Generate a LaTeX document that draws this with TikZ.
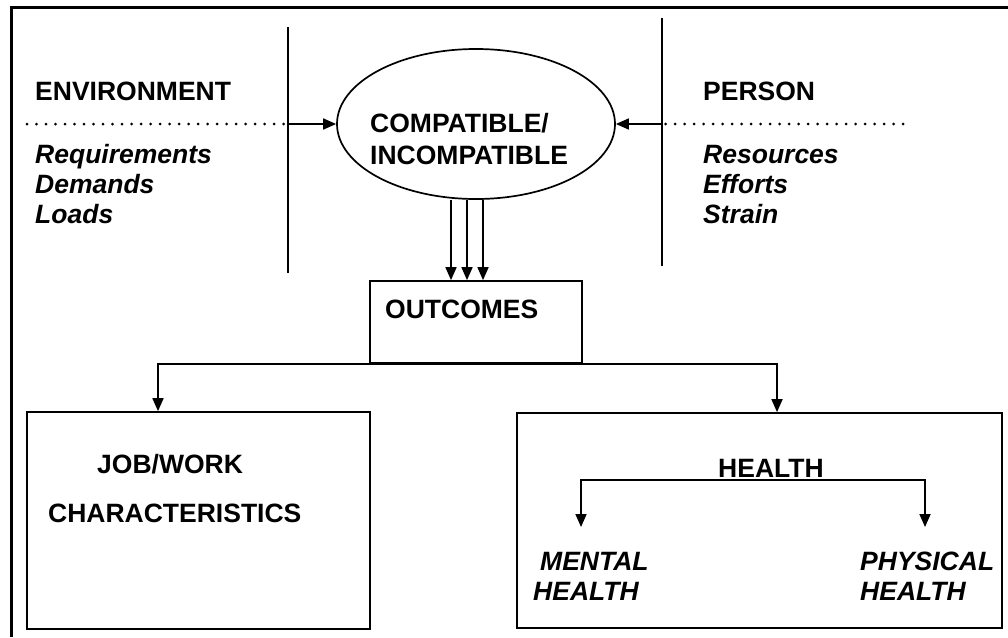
\documentclass[tikz,border=0pt]{standalone}
\usepackage{fontspec}
\setmainfont{Liberation Sans}
\usetikzlibrary{arrows.meta,shapes.geometric}

\tikzset{
	edgeline/.style={line width=1.7pt},
	arr/.style={edgeline, -{Triangle[length=13pt,width=11pt]}},
	dblarr/.style={edgeline, {Triangle[length=13pt,width=11pt]}-{Triangle[length=13pt,width=11pt]}},
	dotline/.style={line width=3pt, line cap=round, dash pattern=on 0pt off 9.5pt},
	box/.style={draw, edgeline, rectangle, inner sep=0},
	caps/.style={anchor=base west, inner sep=0, font=\bfseries\fontsize{26.5}{30}\selectfont},
	listitem/.style={caps, font=\bfseries\itshape\fontsize{26.5}{30}\selectfont},
}

\begin{document}
\begin{tikzpicture}[x=1pt,y=-1pt]
	\useasboundingbox (0,0) rectangle (1008,637);
	% outer frame, cut off at right and bottom
	\draw[line width=3pt] (11,637) -- (11,7) -- (1008,7);

	% the two side bars
	\coordinate (envbar top) at (288,27);
	\coordinate (envbar bot) at (288,273);
	\coordinate (perbar top) at (662,18);
	\coordinate (perbar bot) at (662,266);
	\draw[edgeline] (envbar top) -- (envbar bot);
	\draw[edgeline] (perbar top) -- (perbar bot);

	\node[ellipse, draw, edgeline, minimum width=278, minimum height=150, inner sep=0] (compat) at (476,124) {};
	\node[caps] (compat1) at (370,132) {COMPATIBLE/};
	\node[caps] (compat2) at (370,164) {INCOMPATIBLE};

	% environment side
	\node[caps] (env) at (35,100) {ENVIRONMENT};
	\foreach \t [count=\i] in {Requirements,Demands,Loads}
		\node[listitem] (env\i) at (35,133+30*\i) {\t};
	\coordinate (envdots) at (27,124);
	\draw[dotline] (envdots) -- (envdots -| envbar top);
	\draw[arr] (envdots -| envbar top) -- (compat.west);

	% person side
	\node[caps] (per) at (703,100) {PERSON};
	\foreach \t [count=\i] in {Resources,Efforts,Strain}
		\node[listitem] (per\i) at (703,133+30*\i) {\t};
	\coordinate (perdots) at (903,124);
	\draw[dotline] (perdots) -- (perdots -| perbar top);
	\draw[arr] (perdots -| perbar top) -- (compat.east);

	% outcomes
	\node[box, minimum width=212, minimum height=82] (outcomes) at (476,322) {};
	\node[caps] (outcomes text) at (385,318) {OUTCOMES};
	\foreach \dx in {-25,-9,7}
		\draw[arr] ([xshift=\dx]compat.south) -- ([xshift=\dx]outcomes.north);

	\node[box, minimum width=343, minimum height=217] (job) at (198.5,520.5) {};
	\node[box, minimum width=485, minimum height=215] (health) at (759.5,520.5) {};
	\draw[arr] (outcomes.south) -| ([xshift=-40.5]job.north);
	\draw[arr] (outcomes.south) -| ([xshift=17.5]health.north);

	\node[caps] (job1) at (97,473) {JOB/WORK};
	\node[caps] (job2) at (48,522) {CHARACTERISTICS};

	% inside the health box
	\node[caps] (healthhead) at (718,477) {HEALTH};
	\coordinate (hsplit) at (753,480);
	\coordinate (mentaltip) at (581,527);
	\coordinate (physicaltip) at (925,527);
	\draw[dblarr] (mentaltip) |- (hsplit) -| (physicaltip);
	\node[listitem] (mental1) at (540,570) {MENTAL};
	\node[listitem] (mental2) at (533,600) {HEALTH};
	\node[listitem] (physical1) at (860,570) {PHYSICAL};
	\node[listitem] (physical2) at (860,600) {HEALTH};
\end{tikzpicture}
\end{document}
